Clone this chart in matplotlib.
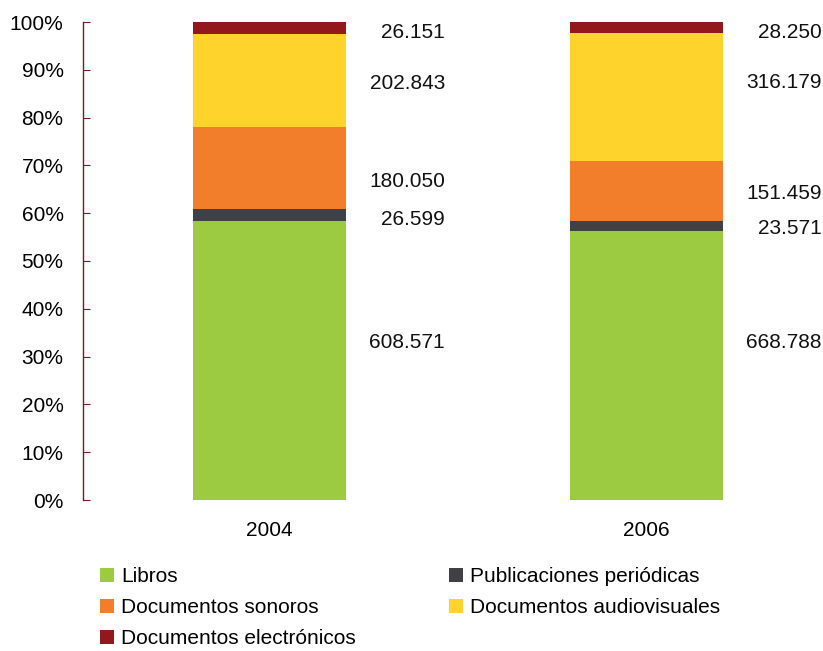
"""
Fondos de bibliotecas por tipo de documento, 2004 y 2006 (100% apilado).
"""

import numpy as np
import matplotlib
matplotlib.use("Agg")
import matplotlib.pyplot as plt
from matplotlib.ticker import PercentFormatter

years = ["2004", "2006"]
series = [
    "Libros",
    "Publicaciones periódicas",
    "Documentos sonoros",
    "Documentos audiovisuales",
    "Documentos electrónicos",
]
libros = [608571, 668788]
publicaciones = [26599, 23571]
sonoros = [180050, 151459]
audiovisuales = [202843, 316179]
electronicos = [26151, 28250]

colors = ["#9ccb41", "#414145", "#f27e2c", "#fed32b", "#92181d"]
spine_color = "#6b1f1f"
# value labels sit beside each segment, measured from its bottom or top (percent points)
label_anchor = ["bottom", "bottom", "bottom", "top", "top"]
label_offset = [32.85, 0.45, 5.9, -10.35, -2.3]


def fmt_thousands(v: int) -> str:
    # 608571 -> 608.571
    return f"{v:,}".replace(",", ".")


def main():
    plt.rcParams["font.family"] = ["Liberation Sans", "DejaVu Sans"]
    fs = 15

    values = np.array([libros, publicaciones, sonoros, audiovisuales, electronicos], dtype=float)
    shares = values / values.sum(axis=0) * 100

    fig = plt.figure(figsize=(8.23, 6.51), dpi=100)
    ax = fig.add_axes([83 / 823, 151 / 651, 740 / 823, 478 / 651])

    x = np.arange(len(years))
    width = 0.405
    bottom = np.zeros(len(years))
    for i, name in enumerate(series):
        ax.bar(x, shares[i], width, bottom=bottom, color=colors[i], label=name, linewidth=0)
        ref = bottom if label_anchor[i] == "bottom" else bottom + shares[i]
        ypos = ref + label_offset[i]
        for j in range(len(years)):
            ax.text(x[j] + 0.465, ypos[j], fmt_thousands(int(values[i, j])),
                    ha="right", va="center", fontsize=fs, color="#111111")
        bottom += shares[i]

    ax.set_xlim(-0.495, 1.468)
    ax.set_ylim(0, 100)
    ax.set_yticks(np.arange(0, 101, 10))
    ax.yaxis.set_major_formatter(PercentFormatter(decimals=0))
    ax.set_xticks(x)
    ax.set_xticklabels(years)

    for side in ["top", "right", "bottom"]:
        ax.spines[side].set_visible(False)
    ax.spines["left"].set_color(spine_color)
    ax.spines["left"].set_linewidth(1.0)
    ax.tick_params(axis="y", direction="in", length=5, color=spine_color, pad=14, labelsize=fs)
    ax.tick_params(axis="x", length=0, pad=15, labelsize=fs)

    handles, labels = ax.get_legend_handles_labels()
    order = [0, 2, 4, 1, 3]
    fig.legend([handles[k] for k in order], [labels[k] for k in order],
               loc="upper left", bbox_to_anchor=(100 / 823, 1 - 567 / 651),
               ncol=2, frameon=False, fontsize=fs, borderpad=0, borderaxespad=0,
               handlelength=0.65, handleheight=0.65, handletextpad=0.35,
               labelspacing=0.58, columnspacing=4.5)

    fig.savefig("out.png", dpi=100)


if __name__ == "__main__":
    main()
